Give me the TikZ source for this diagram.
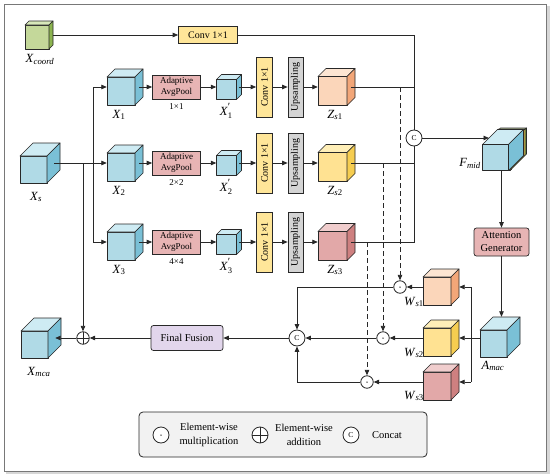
\documentclass[tikz,border=0pt]{standalone}
\usepackage{fontspec}
\usepackage{graphicx}
\setmainfont{Liberation Serif}
\usetikzlibrary{arrows.meta,calc}

\definecolor{lineC}{RGB}{40,40,40}
\definecolor{bF}{RGB}{176,218,230}\definecolor{bT}{RGB}{206,235,243}\definecolor{bS}{RGB}{122,192,214}
\definecolor{oF}{RGB}{251,214,186}\definecolor{oT}{RGB}{252,229,210}\definecolor{oS}{RGB}{242,166,120}
\definecolor{yF}{RGB}{255,226,146}\definecolor{yT}{RGB}{255,239,184}\definecolor{yS}{RGB}{246,205,80}
\definecolor{pF}{RGB}{226,168,168}\definecolor{pT}{RGB}{240,205,205}\definecolor{pS}{RGB}{206,128,128}
\definecolor{gF}{RGB}{196,216,154}\definecolor{gT}{RGB}{216,232,186}\definecolor{gS}{RGB}{140,180,80}
\definecolor{convC}{RGB}{255,230,153}
\definecolor{poolC}{RGB}{231,180,180}
\definecolor{upC}{RGB}{212,212,212}
\definecolor{ffC}{RGB}{226,214,236}
\definecolor{legC}{RGB}{242,242,242}
\definecolor{frameC}{RGB}{120,120,120}
\definecolor{shadowC}{RGB}{215,215,215}

% cube: name, cx, cy, side, depth, colour prefix
\newcommand{\cubeD}[6]{%
  \pgfmathsetmacro{\cuH}{(#4+#5)/2}%
  \pgfmathsetmacro{\cuS}{#4}%
  \pgfmathsetmacro{\cuD}{#5}%
  \pgfmathsetmacro{\cuW}{#4+#5}%
  \begin{scope}[shift={(#2,#3)}]
    \filldraw[cubeedge, fill=#6F] (-\cuH,-\cuH+\cuD) rectangle (-\cuH+\cuS,\cuH);
    \filldraw[cubeedge, fill=#6T] (-\cuH,-\cuH+\cuD) -- (-\cuH+\cuD,-\cuH) -- (\cuH,-\cuH) -- (-\cuH+\cuS,-\cuH+\cuD) -- cycle;
    \filldraw[cubeedge, fill=#6S] (-\cuH+\cuS,-\cuH+\cuD) -- (\cuH,-\cuH) -- (\cuH,\cuH-\cuD) -- (-\cuH+\cuS,\cuH) -- cycle;
  \end{scope}
  \node[inner sep=0pt, minimum width=\cuW pt, minimum height=\cuW pt] (#1) at (#2,#3) {};
}
\newcommand{\lab}[2]{\textit{#1}\textsubscript{#2}}
\newcommand{\labp}[2]{\textit{#1}\raisebox{-3.2pt}{\shortstack[l]{{\fontsize{11}{11}\selectfont ′}\\[-1pt]{\fontsize{8.5}{8.5}\selectfont #2}}}}

\begin{document}
\begin{tikzpicture}[x=1pt,y=-1pt,
  cubeedge/.style={draw=lineC, line width=0.6pt, line join=round},
  conn/.style={draw=lineC, line width=0.8pt},
  arr/.style={conn, -{Triangle[length=5.5pt,width=4.5pt]}},
  dsh/.style={arr, dash pattern=on 5pt off 3pt},
  box/.style={draw=lineC, line width=0.7pt, inner sep=0pt, align=center},
  convtop/.style={box, fill=convC, minimum width=59pt, minimum height=17pt, font=\fontsize{10}{11}\selectfont},
  vconv/.style={box, fill=convC, minimum width=16pt, minimum height=60pt, font=\fontsize{10}{11}\selectfont},
  vup/.style={box, fill=upC, minimum width=15pt, minimum height=60pt, font=\fontsize{10}{11}\selectfont},
  pool/.style={box, fill=poolC, minimum width=48pt, minimum height=24pt, font=\fontsize{9}{10.5}\selectfont},
  attg/.style={box, fill=poolC, rounded corners=2.5pt, minimum width=55pt, minimum height=28pt, font=\fontsize{10.5}{13}\selectfont},
  ffbox/.style={box, fill=ffC, rounded corners=2.5pt, minimum width=72pt, minimum height=25pt, font=\fontsize{10.5}{12}\selectfont},
  catC/.style={circle, draw=lineC, line width=0.8pt, fill=white, minimum size=16pt, inner sep=0pt, font=\fontsize{7.5}{8}\selectfont},
  dotC/.style={circle, draw=lineC, line width=0.8pt, fill=white, minimum size=12.5pt, inner sep=0pt,
     path picture={\fill[lineC] (path picture bounding box.center) circle (0.75pt);}},
  plusC/.style={circle, draw=lineC, line width=0.8pt, fill=white, minimum size=12.5pt, inner sep=0pt,
     path picture={\draw[lineC, line width=0.8pt] (path picture bounding box.north) -- (path picture bounding box.south) (path picture bounding box.east) -- (path picture bounding box.west);}},
  lbl/.style={inner sep=0pt, font=\fontsize{12.5}{14}\selectfont},
  szlbl/.style={inner sep=0pt, font=\fontsize{9}{10}\selectfont},
  legtxt/.style={inner sep=0pt, align=center, font=\fontsize{10.5}{13.5}\selectfont}
]
\useasboundingbox (0,0) rectangle (550,474);
\fill[white] (0,0) rectangle (550,474);
\fill[shadowC] (546,6) rectangle (550,474);
\fill[shadowC] (6,471) rectangle (550,474);
\draw[frameC, line width=0.8pt] (4,4) rectangle (546,471);

% ---------- top branch ----------
\cubeD{Xcoord}{39}{35}{24}{4}{g}
\node[lbl] (lXcoord) at (40,59) {\lab{X}{\textit{coord}}};
\node[convtop] (conv0) at (208,35) {Conv 1×1};

% ---------- input ----------
\cubeD{Xs}{40}{163}{27}{13}{b}
\node[lbl] (lXs) at (36,197) {\lab{X}{\textit{s}}};

% ---------- three rows ----------
\foreach \i/\y/\sz/\zc in {1/87/1×1/o, 2/163/2×2/y, 3/242/4×4/p}{
  \cubeD{X\i}{125}{\y}{28}{8}{b}
  \node[lbl] (lX\i) at (119,\y+28) {\lab{X}{\i}};
  \node[pool] (P\i) at (176.5,\y) {Adaptive\\AvgPool};
  \node[szlbl] (sz\i) at (176.5,\y+20) {\sz};
  \cubeD{Xp\i}{229}{\y}{20}{5}{b}
  \node[lbl] (lXp\i) at (226,\y+24) {\labp{X}{\i}};
  \node[vconv] (Cv\i) at (264.5,\y) {\rotatebox{90}{Conv 1×1}};
  \node[vup] (U\i) at (295.5,\y) {\rotatebox{90}{Upsampling}};
  \cubeD{Zs\i}{336.5}{\y}{29}{8}{\zc}
  \node[lbl] (lZs\i) at (335,\y+28) {\lab{Z}{\textit{s}\i}};
  \draw[arr] ([xshift=-4pt]X\i.east) -- (P\i.west);
  \draw[arr] (P\i.east) -- (Xp\i.west);
  \draw[arr] ([xshift=-2.5pt]Xp\i.east) -- (Cv\i.west);
  \draw[arr] (Cv\i.east) -- (U\i.west);
  \draw[arr] (U\i.east) -- (Zs\i.west);
}

% ---------- concat and F_mid ----------
\node[catC] (C1) at (414,138) {C};
\coordinate (j1) at (414,87);
\coordinate (j2) at (414,163);
\coordinate (j3) at (414,242);
\draw[arr] (Xcoord.east) -- (conv0.west);
\draw[conn] (conv0.east) -| (C1.north);
\draw[conn] ([xshift=-4pt]Zs1.east) -- (j1);
\draw[conn] ([xshift=-4pt]Zs2.east) -- (j2);
\draw[conn] ([xshift=-4pt]Zs3.east) -- (j3) -- (C1.south);

\cubeD{FmidG}{506}{148.5}{26}{15}{g}
\cubeD{FmidY}{504.5}{149.3}{26}{15}{y}
\cubeD{Fmid}{503}{150}{26}{15}{b}
\node[lbl, anchor=east] (lFmid) at (481,163) {\lab{F}{\textit{mid}}};
\coordinate (fmidin) at (489,138);
\draw[arr] (C1.east) -- (fmidin);

\node[attg] (AG) at (501.5,242) {Attention\\Generator};
\draw[arr] (Fmid.south -| AG.north) -- (AG.north);

\cubeD{Amac}{500}{337}{27}{13}{b}
\node[lbl] (lAmac) at (493,366) {\lab{A}{\textit{mac}}};
\draw[arr] (AG.south) -- (AG.south |- Amac.north);

% ---------- weights ----------
\cubeD{Ws1}{441}{287}{28}{8}{o}
\cubeD{Ws2}{441}{338}{28}{8}{y}
\cubeD{Ws3}{441}{382}{28}{8}{p}
\node[lbl, anchor=east] (lWs1) at (424,302) {\lab{W}{\textit{s}1}};
\node[lbl, anchor=east] (lWs2) at (424,353) {\lab{W}{\textit{s}2}};
\node[lbl, anchor=east] (lWs3) at (424,396) {\lab{W}{\textit{s}3}};

\coordinate (a1) at (471,287);
\coordinate (a3) at (471,382);
\draw[arr] (Amac.west |- Ws2.east) -- (Ws2.east);
\draw[conn] (a1) -- (a3);
\draw[arr] (a1) -- (Ws1.east);
\draw[arr] (a3) -- (Ws3.east);

\node[dotC] (dot1) at (400,287) {};
\node[dotC] (dot2) at (383,338) {};
\node[dotC] (dot3) at (367,382) {};
\draw[arr] (Ws1.west) -- (dot1.east);
\draw[arr] (Ws2.west) -- (dot2.east);
\draw[arr] (Ws3.west) -- (dot3.east);

\coordinate (d1) at (400,87);
\coordinate (d2) at (383,163);
\coordinate (d3) at (367,242);
\draw[dsh] (d1) -- (dot1.north);
\draw[dsh] (d2) -- (dot2.north);
\draw[dsh] (d3) -- (dot3.north);

\node[catC] (C2) at (297,338) {C};
\draw[arr] (dot1.west) -| (C2.north);
\draw[arr] (dot3.west) -| (C2.south);
\draw[arr] (dot2.west) -- (C2.east);

% ---------- fusion ----------
\node[ffbox] (FF) at (187,338) {Final Fusion};
\node[plusC] (plus) at (83,338) {};
\cubeD{Xmca}{41}{338}{27}{13}{b}
\node[lbl] (lXmca) at (39,372) {\lab{X}{\textit{mca}}};
\draw[arr] (C2.west) -- (FF.east);
\draw[arr] (FF.west) -- (plus.east);
\draw[arr] (plus.west) -- ([xshift=-6pt]Xmca.east);

% ---------- input branches ----------
\coordinate (bx1) at (93,87);
\coordinate (bx3) at (93,242);
\coordinate (px) at (83,163);
\draw[arr] ([xshift=-6pt]Xs.east) -- (X2.west);
\draw[conn] (bx1) -- (bx3);
\draw[arr] (bx1) -- (X1.west);
\draw[arr] (bx3) -- (X3.west);
\draw[arr] (px) -- (plus.north);

% ---------- legend ----------
\node[draw=lineC, line width=0.8pt, fill=legC, rounded corners=4pt, minimum width=288pt, minimum height=45pt, inner sep=0pt] (legend) at (283,434.5) {};
\node[dotC, minimum size=16pt] (ldot) at (161,435) {};
\node[legtxt] (ltxt1) at (209,435) {Element-wise\\multiplication};
\node[plusC, minimum size=16pt] (lplus) at (260,435) {};
\node[legtxt] (ltxt2) at (304,435) {Element-wise\\addition};
\node[catC] (lcat) at (351,435) {C};
\node[legtxt] (ltxt3) at (387,435) {Concat};
\end{tikzpicture}
\end{document}
